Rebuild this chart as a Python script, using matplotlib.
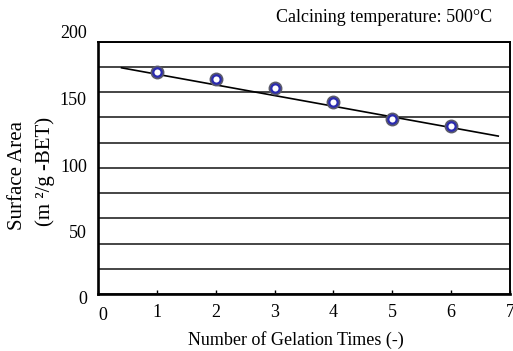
import matplotlib.pyplot as plt
import numpy as np
from matplotlib.transforms import ScaledTranslation

# Datos: area superficial BET frente al numero de gelificaciones
gelation_times = [1, 2, 3, 4, 5, 6]
surface_area = [176, 170.5, 163, 152.5, 139, 133.5]

# Recta de tendencia (pendiente, ordenada) y tramo dibujado
trend_coef = [-8.45, 182.6]
trend_range = [0.4, 6.8]

x_ticks = [0, 1, 2, 3, 4, 5, 6, 7]
y_grid = [0, 20, 40, 60, 80, 100, 120, 140, 160, 180, 200]
y_labels = [0, 50, 100, 150, 200]

plt.rcParams['font.family'] = ['Liberation Serif', 'DejaVu Serif']

W, H = 513, 351
fig = plt.figure(figsize=(W / 100, H / 100), dpi=100)

# Ejes principales (posiciones en pixeles)
x0, x1, y0, y1 = 98, 510, 294, 41.6
ax = fig.add_axes([x0 / W, 1 - y0 / H, (x1 - x0) / W, (y0 - y1) / H])
ax.set_xlim(0, 7)
ax.set_ylim(0, 200)

ax.set_yticks(y_grid)
ax.set_yticklabels([])
ax.tick_params(axis='y', length=0)
ax.grid(axis='y', color='#454545', linewidth=1.4)
ax.set_axisbelow(True)

ax.set_xticks(x_ticks)
ax.set_xticklabels([str(t) for t in x_ticks], fontsize=13)
ax.tick_params(axis='x', direction='in', length=3, width=1, pad=7)
# el "0" queda algo desplazado a la derecha y abajo
lab0 = ax.get_xticklabels()[0]
lab0.set_transform(lab0.get_transform() + ScaledTranslation(5 / 100, -3 / 100, fig.dpi_scale_trans))

for side in ['left', 'bottom']:
    ax.spines[side].set_linewidth(1.9)
for side in ['top', 'right']:
    ax.spines[side].set_linewidth(1.4)

# Recta de tendencia
xt = np.array(trend_range)
ax.plot(xt, np.polyval(trend_coef, xt), color='black', linewidth=1.2, zorder=3)

# Marcadores: circulo gris exterior con anillo azul y centro blanco
ax.plot(gelation_times, surface_area, 'o', ms=9, mfc='#5a5a6a', mec='#5a5a6a', zorder=4)
ax.plot(gelation_times, surface_area, 'o', ms=6, mfc='white', mec='#2b2bb0', mew=1.6, zorder=5)

# Etiquetas del eje y (escala propia, algo mas espaciada que la rejilla)
ly0, ly1 = 298, 32
lax = fig.add_axes([x0 / W, 1 - ly0 / H, 0.001, (ly0 - ly1) / H])
lax.set_ylim(0, 200)
lax.set_yticks(y_labels)
lax.set_yticklabels([str(v) for v in y_labels], fontsize=13)
lax.tick_params(axis='y', length=0, pad=8)
lax.set_xticks([])
for s in lax.spines.values():
    s.set_visible(False)
lax.patch.set_visible(False)

fig.text(18 / W, 1 - 175 / H, 'Surface Area', rotation=90, ha='center', va='center', fontsize=15)
fig.text(45 / W, 1 - 171 / H, '(m ²/g -BET)', rotation=90, ha='center', va='center', fontsize=15)
fig.text(296 / W, 1 - 340 / H, 'Number of Gelation Times (-)', ha='center', va='center', fontsize=13)
fig.text(492 / W, 1 - 18 / H, 'Calcining temperature: 500°C', ha='right', va='center', fontsize=13)

fig.savefig('out.png', dpi=100)
